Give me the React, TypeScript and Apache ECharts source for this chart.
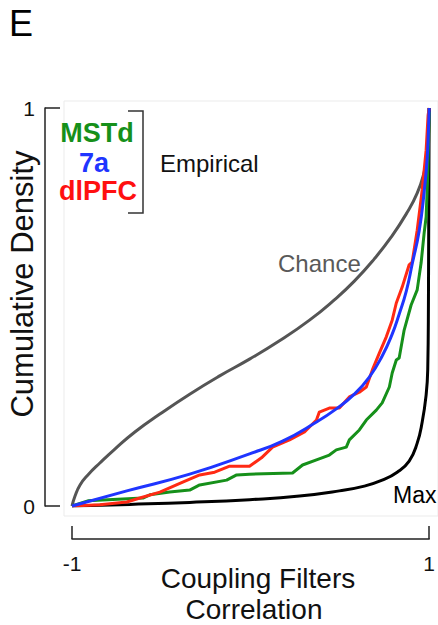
import React, { useEffect, useRef } from "react";
import * as echarts from "echarts";

// Reference curves: [correlation, cumulative density]
const chanceCurve: number[][] = [
  [-1, 0], [-0.983, 0.025], [-0.955, 0.053], [-0.911, 0.078], [-0.844, 0.108],
  [-0.76, 0.143], [-0.648, 0.186], [-0.508, 0.231], [-0.341, 0.281], [-0.173, 0.327],
  [-0.006, 0.369], [0.162, 0.415], [0.33, 0.467], [0.469, 0.518], [0.581, 0.565],
  [0.693, 0.621], [0.788, 0.676], [0.872, 0.734], [0.933, 0.786], [0.972, 0.839],
  [0.989, 0.882], [1, 1],
];
const maxCurve: number[][] = [
  [-1, 0], [-0.676, 0.004], [-0.341, 0.009], [-0.006, 0.016], [0.274, 0.025],
  [0.497, 0.038], [0.637, 0.05], [0.737, 0.065], [0.821, 0.085], [0.888, 0.113],
  [0.933, 0.158], [0.961, 0.211], [0.983, 0.279], [0.992, 0.342], [0.996, 0.518],
  [1, 1],
];
const mstdCurve: number[][] = [
  [-1, 0], [-0.911, 0.013], [-0.827, 0.015], [-0.603, 0.02], [-0.564, 0.028],
  [-0.453, 0.035], [-0.341, 0.04], [-0.285, 0.053], [-0.134, 0.065], [-0.078, 0.078],
  [-0.006, 0.08], [0.235, 0.083], [0.291, 0.103], [0.369, 0.116], [0.441, 0.128],
  [0.48, 0.141], [0.536, 0.148], [0.553, 0.166], [0.609, 0.191], [0.648, 0.216],
  [0.704, 0.241], [0.737, 0.259], [0.777, 0.299], [0.793, 0.334], [0.816, 0.367],
  [0.832, 0.372], [0.86, 0.442], [0.899, 0.505], [0.933, 0.543], [0.955, 0.611],
  [0.972, 0.686], [0.983, 0.726], [0.991, 0.819], [0.997, 0.92], [1, 0.99],
];
const dlpfcCurve: number[][] = [
  [-1, 0], [-0.844, 0.003], [-0.693, 0.01], [-0.62, 0.02], [-0.508, 0.035],
  [-0.38, 0.06], [-0.285, 0.078], [-0.201, 0.085], [-0.117, 0.1], [-0.006, 0.1],
  [0.061, 0.121], [0.123, 0.148], [0.218, 0.166], [0.302, 0.186], [0.369, 0.216],
  [0.385, 0.236], [0.441, 0.246], [0.497, 0.246], [0.553, 0.274], [0.609, 0.286],
  [0.648, 0.299], [0.682, 0.342], [0.721, 0.384], [0.76, 0.425], [0.793, 0.467],
  [0.816, 0.51], [0.849, 0.55], [0.888, 0.606], [0.905, 0.613], [0.933, 0.693],
  [0.961, 0.794], [0.983, 0.894], [0.994, 0.982], [1, 1],
];
const area7aCurve: number[][] = [
  [-1, 0], [-0.693, 0.038], [-0.341, 0.08], [-0.006, 0.131], [0.179, 0.163],
  [0.369, 0.211], [0.48, 0.244], [0.581, 0.281], [0.665, 0.324], [0.737, 0.377],
  [0.793, 0.432], [0.832, 0.482], [0.872, 0.54], [0.905, 0.608], [0.944, 0.691],
  [0.972, 0.789], [0.989, 0.874], [0.996, 0.945], [1, 1],
];

const xTicks = [-1, 1];
const yTicks = [0, 1];
const legendNames = ["MSTd", "7a", "dlPFC"];

const FONT = "Liberation Sans, Arial, Helvetica, sans-serif";
const GREEN = "#16901a";
const BLUE = "#1f35ff";
const RED = "#ff2a14";

export default function App() {
  const ref = useRef<HTMLDivElement>(null);
  useEffect(() => {
    if (!ref.current) return;
    const chart = echarts.init(ref.current, null, { renderer: "svg" });
    const line = (name: string, data: number[][], color: string, smooth: number | false, z: number) => ({
      name,
      type: "line",
      data,
      symbol: "none",
      smooth,
      lineStyle: { color, width: 3, join: "round" },
      z,
      silent: true,
    });
    chart.setOption({
      animation: false,
      backgroundColor: "#ffffff",
      grid: { left: 72, right: 8, top: 108, bottom: 119, containLabel: false },
      xAxis: {
        type: "value",
        min: -1,
        max: 1,
        offset: 33,
        axisLine: { show: true, onZero: false, lineStyle: { color: "#222", width: 1.5 } },
        axisTick: { show: true, inside: true, length: 13, customValues: xTicks, lineStyle: { color: "#222", width: 1.5 } },
        axisLabel: { show: true, customValues: xTicks, margin: 14, fontSize: 21, color: "#111", fontFamily: FONT },
        splitLine: { show: false },
      },
      yAxis: {
        type: "value",
        min: 0,
        max: 1,
        offset: 27,
        axisLine: { show: true, onZero: false, lineStyle: { color: "#222", width: 1.5 } },
        axisTick: { show: true, inside: true, length: 15, customValues: yTicks, lineStyle: { color: "#222", width: 1.5 } },
        axisLabel: { show: true, customValues: yTicks, margin: 10, fontSize: 21, color: "#111", fontFamily: FONT },
        splitLine: { show: false },
      },
      series: [
        line("Chance", chanceCurve, "#555555", 0.5, 2),
        line("Max", maxCurve, "#000000", 0.5, 3),
        line(legendNames[0], mstdCurve, GREEN, false, 4),
        line(legendNames[2], dlpfcCurve, RED, false, 5),
        line(legendNames[1], area7aCurve, BLUE, 0.5, 6),
      ],
      graphic: [
        { type: "rect", shape: { x: 64, y: 101, width: 374, height: 415 }, style: { fill: "none", stroke: "#ebebeb", lineWidth: 1 }, z: 0, silent: true },
        { type: "text", x: 9, y: 23, style: { text: "E", font: `36px ${FONT}`, fill: "#000", textAlign: "left", textVerticalAlign: "middle" } },
        { type: "text", x: 97, y: 133, style: { text: legendNames[0], font: `bold 27px ${FONT}`, fill: GREEN, textAlign: "center", textVerticalAlign: "middle" } },
        { type: "text", x: 94, y: 163, style: { text: legendNames[1], font: `bold 27px ${FONT}`, fill: BLUE, textAlign: "center", textVerticalAlign: "middle" } },
        { type: "text", x: 98, y: 191, style: { text: legendNames[2], font: `bold 27px ${FONT}`, fill: "#ff1010", textAlign: "center", textVerticalAlign: "middle" } },
        { type: "polyline", shape: { points: [[128, 111], [143, 111], [143, 213], [128, 213]] }, style: { fill: "none", stroke: "#333", lineWidth: 1.5 } },
        { type: "text", x: 160, y: 163, style: { text: "Empirical", font: `24px ${FONT}`, fill: "#111", textAlign: "left", textVerticalAlign: "middle" } },
        { type: "text", x: 278, y: 263, style: { text: "Chance", font: `24px ${FONT}`, fill: "#595959", textAlign: "left", textVerticalAlign: "middle" } },
        { type: "text", x: 393, y: 495, style: { text: "Max", font: `23px ${FONT}`, fill: "#000", textAlign: "left", textVerticalAlign: "middle" } },
        { type: "text", x: 258, y: 578, style: { text: "Coupling Filters", font: `28px ${FONT}`, fill: "#111", textAlign: "center", textVerticalAlign: "middle" } },
        { type: "text", x: 254, y: 609, style: { text: "Correlation", font: `28px ${FONT}`, fill: "#111", textAlign: "center", textVerticalAlign: "middle" } },
        { type: "text", x: 22, y: 284, rotation: Math.PI / 2, style: { text: "Cumulative Density", font: `31px ${FONT}`, fill: "#111", textAlign: "center", textVerticalAlign: "middle" } },
      ],
    });
    return () => chart.dispose();
  }, []);
  return <div ref={ref} style={{ position: "fixed", left: 0, top: 0, width: 438, height: 625 }} />;
}
